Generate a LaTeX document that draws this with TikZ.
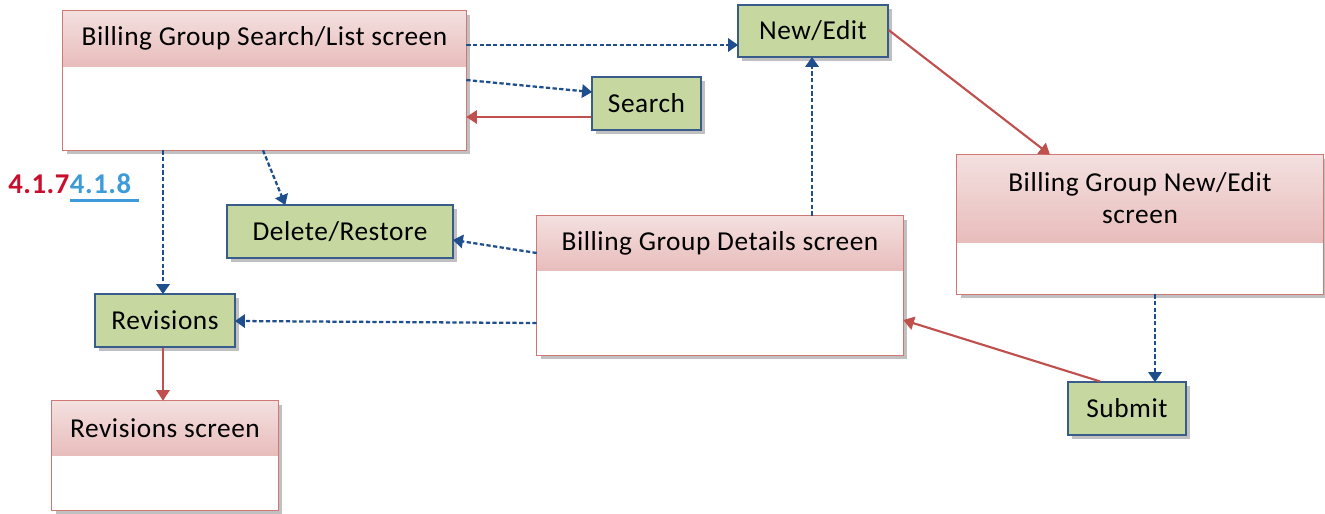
\documentclass[tikz,border=0pt]{standalone}
\usepackage{fontspec}
\setmainfont{Carlito}[LetterSpace=2]
\usetikzlibrary{shadows,arrows.meta,calc}
\definecolor{pinkhi}{HTML}{F3E0DF}
\definecolor{pinklo}{HTML}{E8BDBC}
\definecolor{redline}{HTML}{C0504D}
\definecolor{boxline}{HTML}{D07875}
\definecolor{greenf}{HTML}{C6D8A0}
\definecolor{blueline}{HTML}{385D8A}
\definecolor{dashblue}{HTML}{1F4E8C}
\definecolor{numred}{HTML}{C8102E}
\definecolor{numblue}{HTML}{3D9BD9}
\begin{document}
\begin{tikzpicture}[x=0.75pt,y=-0.75pt,
  txt/.style={font=\fontsize{20.5}{24}\selectfont},
  screenbox/.style={fill=white, inner sep=0pt,
    drop shadow={shadow xshift=3pt,shadow yshift=-3pt,opacity=0.45,fill=black!55}},
  outline/.style={draw=boxline, line width=0.9pt},
  headband/.style={top color=pinkhi, bottom color=pinklo, inner sep=0pt, txt, align=center, anchor=north},
  actbox/.style={draw=blueline, line width=0.9pt, fill=greenf, inner sep=0pt, txt,
    drop shadow={shadow xshift=3pt,shadow yshift=-3pt,opacity=0.45,fill=black!55}},
  flow/.style={dashblue, line width=1.7pt, dash pattern=on 3.2pt off 1.8pt,
    -{Triangle[width=10pt,length=7.5pt]}, shorten >=-0.5pt},
  back/.style={redline, line width=1.6pt, -{Triangle[width=10pt,length=8pt]}}]
\useasboundingbox (0,0) rectangle (1325,514);

% screen boxes
\node[screenbox, minimum width=302.25pt, minimum height=104.25pt] (sl) at (264.5,80.5) {};
\node[headband, minimum width=302.25pt, minimum height=41.25pt] (slh) at (sl.north) {Billing Group Search/List screen};
\draw[outline] (sl.north west) rectangle (sl.south east);

\node[screenbox, minimum width=274.5pt, minimum height=104.25pt] (dt) at (720,285.5) {};
\node[headband, minimum width=274.5pt, minimum height=40.5pt] (dth) at (dt.north) {Billing Group Details screen};
\draw[outline] (dt.north west) rectangle (dt.south east);

\node[screenbox, minimum width=274.5pt, minimum height=104.25pt] (nes) at (1140,224.5) {};
\node[headband, minimum width=274.5pt, minimum height=65.25pt] (nesh) at (nes.north) {Billing Group New/Edit\\screen};
\draw[outline] (nes.north west) rectangle (nes.south east);

\node[screenbox, minimum width=169.5pt, minimum height=81.75pt] (rs) at (165,455.5) {};
\node[headband, minimum width=169.5pt, minimum height=40.5pt] (rsh) at (rs.north) {Revisions screen};
\draw[outline] (rs.north west) rectangle (rs.south east);

% action boxes
\node[actbox, minimum width=112.5pt, minimum height=39pt] (ne) at (813,31) {New/Edit};
\node[actbox, minimum width=81.75pt, minimum height=39.75pt] (se) at (646.5,103.5) {Search};
\node[actbox, minimum width=169.5pt, minimum height=39.75pt] (dr) at (340,231.5) {Delete/Restore};
\node[actbox, minimum width=105pt, minimum height=39.75pt] (rv) at (165,320.5) {Revisions};
\node[actbox, minimum width=88.5pt, minimum height=39.75pt] (sb) at (1127,408.5) {Submit};

% section numbers
\node[font=\fontsize{21.5}{24}\selectfont\bfseries, text=numred, inner sep=0pt, anchor=base west] (n7) at (8,193) {4.1.7};
\node[font=\fontsize{21.5}{24}\selectfont\bfseries, text=numblue, inner sep=0pt, anchor=base west] (n8) at (n7.base east) {4.1.8};
\draw[numblue, line width=1.8pt] ($(n8.base west)+(0,7.5)$) -- ($(n8.base west)+(69,7.5)$);

% connectors
\draw[flow] ($(sl.east)+(0,-35.5)$) -- ($(ne.west)+(0,14)$);
\draw[flow] ($(sl.east)+(0,-0.5)$) -- ($(se.west)+(0,-11.5)$);
\draw[back] ($(se.west)+(0,13.5)$) -- ($(sl.east)+(0,36.5)$);
\draw[flow] ($(sl.south)+(-101.5,0)$) -- ($(rv.north)+(-2,0)$);
\draw[flow] ($(sl.south)+(-1.5,0)$) -- ($(dr.north)+(-55,0)$);
\draw[flow] ($(dt.west)+(0,-32.5)$) -- ($(dr.east)+(0,8.5)$);
\draw[flow] ($(dt.west)+(0,37.5)$) -- ($(rv.east)+(0,0.5)$);
\draw[flow] ($(dt.north)+(92,0)$) -- ($(ne.south)+(-1,0)$);
\draw[back] ($(ne.east)+(0,-1)$) -- ($(nes.north)+(-90,0)$);
\draw[flow] ($(nes.south)+(15,0)$) -- ($(sb.north)+(28,0)$);
\draw[back] ($(sb.north)+(-27,0)$) -- ($(dt.east)+(0,34.5)$);
\draw[back] ($(rv.south)+(-2,0)$) -- ($(rs.north)+(-2,0)$);
\end{tikzpicture}
\end{document}
